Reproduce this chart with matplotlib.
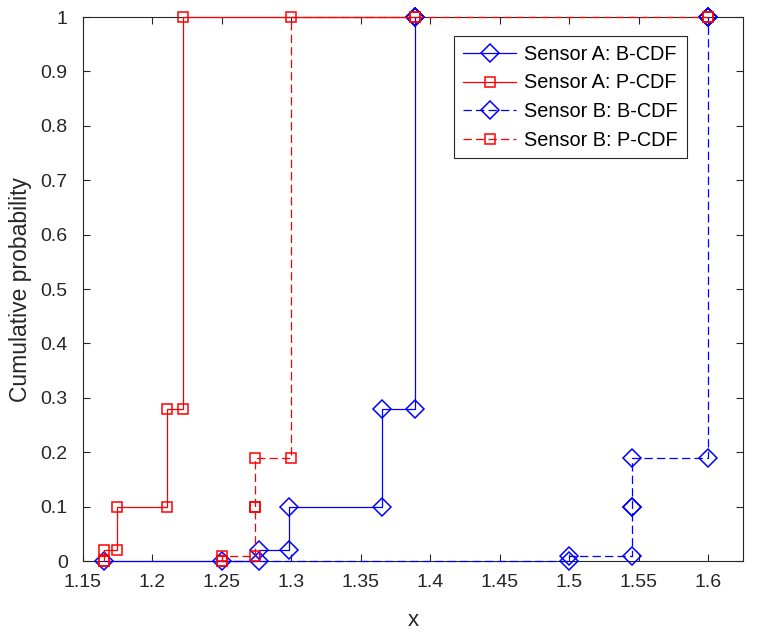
import numpy as np
import matplotlib
matplotlib.use("Agg")
import matplotlib.pyplot as plt

plt.rcParams['font.family'] = ['Liberation Sans', 'DejaVu Sans']
plt.rcParams['lines.scale_dashes'] = False

# step data: x where each level starts, y the level
a_b_x = [1.165, 1.277, 1.298, 1.365, 1.389, 1.389]
a_b_y = [0, 0.02, 0.1, 0.28, 1, 1]

a_p_x = [1.165, 1.165, 1.1745, 1.2105, 1.222, 1.389]
a_p_y = [0, 0.02, 0.1, 0.28, 1, 1]

b_b_x = [1.25, 1.5, 1.545, 1.545, 1.6, 1.6]
b_b_y = [0, 0.01, 0.1, 0.19, 1, 1]

b_p_x = [1.25, 1.25, 1.274, 1.274, 1.3, 1.6]
b_p_y = [0, 0.01, 0.1, 0.19, 1, 1]

labels = ['Sensor A: B-CDF', 'Sensor A: P-CDF', 'Sensor B: B-CDF', 'Sensor B: P-CDF']
xticks = [1.15, 1.2, 1.25, 1.3, 1.35, 1.4, 1.45, 1.5, 1.55, 1.6]
yticks = [0, 0.1, 0.2, 0.3, 0.4, 0.5, 0.6, 0.7, 0.8, 0.9, 1]


def stair_path(x, y):
    xs, ys = [x[0]], [y[0]]
    for i in range(1, len(x)):
        xs.append(x[i])
        ys.append(y[i - 1])
        xs.append(x[i])
        ys.append(y[i])
    return xs, ys


fig = plt.figure(figsize=(7.68, 6.32), dpi=100)
ax = fig.add_axes([0.108, 0.1123, 0.8595, 0.8607])

series = [
    (a_b_x, a_b_y, 'blue', 'D', 9, '-'),
    (a_p_x, a_p_y, 'red', 's', 7.5, '-'),
    (b_b_x, b_b_y, 'blue', 'D', 9, '--'),
    (b_p_x, b_p_y, 'red', 's', 7.5, '--'),
]
for (x, y, c, m, ms, ls), lab in zip(series, labels):
    xs, ys = stair_path(x, y)
    line, = ax.plot(xs, ys, color=c, marker=m, markersize=ms, markerfacecolor='none',
                    markeredgewidth=1.1, linewidth=0.9, linestyle=ls, label=lab,
                    clip_on=False, zorder=3)
    if ls == '--':
        line.set_dashes((6, 3))

ax.set_xlim(1.15, 1.625)
ax.set_ylim(0, 1)
ax.set_xticks(xticks)
ax.set_xticklabels(['1.15', '1.2', '1.25', '1.3', '1.35', '1.4', '1.45', '1.5', '1.55', '1.6'])
ax.set_yticks(yticks)
ax.set_yticklabels(['0', '0.1', '0.2', '0.3', '0.4', '0.5', '0.6', '0.7', '0.8', '0.9', '1'])
ax.tick_params(direction='in', top=True, right=True, labelsize=14, colors='#262626',
               length=5, width=0.8)
ax.tick_params(axis='x', pad=9)
ax.tick_params(axis='y', pad=11)
for s in ax.spines.values():
    s.set_color('#262626')
    s.set_linewidth(0.8)

ax.set_xlabel('x', fontsize=16, color='#262626', labelpad=14)
ax.set_ylabel('Cumulative probability', fontsize=16.5, color='#262626', labelpad=6)

leg = ax.legend(loc='upper right', bbox_to_anchor=(0.8945, 0.943), bbox_transform=fig.transFigure,
                fontsize=14.3, fancybox=False, edgecolor='#262626', framealpha=1,
                handlelength=2.7, handletextpad=0.4, borderpad=0.45, labelspacing=0.48,
                borderaxespad=0)
leg.get_frame().set_linewidth(0.8)

fig.savefig('out.png', dpi=100)
